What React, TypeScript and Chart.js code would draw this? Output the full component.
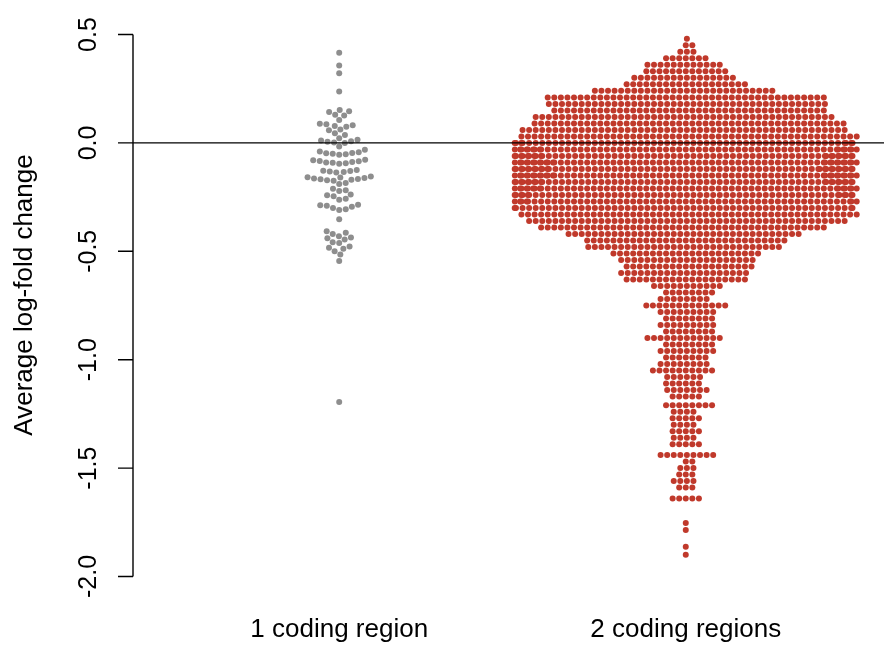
import React, { useEffect, useRef } from 'react';
import { Chart, registerables } from 'chart.js';

Chart.register(...registerables);

// ---------------- data ----------------
const categories = ['1 coding region', '2 coding regions'];
const categoryPositions = [1, 2];
const yTicks = [0.5, 0.0, -0.5, -1.0, -1.5, -2.0];
const yTickLabels = ['0.5', '0.0', '-0.5', '-1.0', '-1.5', '-2.0'];
const yTitle = 'Average log-fold change';
const referenceLine = 0;

// group 1: individual values
const oneRegionValues = [
  0.416, 0.357, 0.321, 0.237,
  0.152, 0.146, 0.142, 0.13, 0.126, 0.106,
  0.088, 0.086, 0.082, 0.078, 0.075,
  0.062, 0.058, 0.045, 0.037,
  0.022, 0.014, 0.011, 0.008, 0.005, 0.002, -0.001,
  -0.017, -0.032,
  -0.04, -0.043, -0.046, -0.048, -0.05, -0.052, -0.055,
  -0.078, -0.08, -0.083, -0.085, -0.088, -0.09, -0.092, -0.094, -0.096,
  -0.125, -0.128, -0.13, -0.132, -0.134, -0.136,
  -0.155, -0.158, -0.16, -0.162, -0.164, -0.166, -0.168, -0.17, -0.172, -0.174,
  -0.185, -0.19,
  -0.212, -0.218, -0.222,
  -0.238, -0.242, -0.246,
  -0.258, -0.262,
  -0.285, -0.288, -0.29, -0.295, -0.3, -0.306, -0.31,
  -0.352,
  -0.408, -0.415, -0.42,
  -0.43, -0.436, -0.44, -0.445,
  -0.458, -0.462,
  -0.478, -0.484, -0.488,
  -0.5, -0.515, -0.545,
  -1.195,
];

// group 2: value levels (rows of the swarm) and the number of points read at each level
const twoRegionLevels = [
  0.48, 0.45, 0.42, 0.39, 0.36, 0.33, 0.3, 0.27, 0.24, 0.21,
  0.18, 0.15, 0.12, 0.09, 0.06, 0.03, 0.0, -0.03, -0.06, -0.09,
  -0.12, -0.15, -0.18, -0.21, -0.24, -0.27, -0.3, -0.33, -0.36, -0.39,
  -0.42, -0.45, -0.48, -0.51, -0.54, -0.57, -0.6, -0.63, -0.66, -0.69,
  -0.72, -0.75, -0.78, -0.81, -0.84, -0.87, -0.9, -0.93, -0.96, -0.99,
  -1.02, -1.05, -1.08, -1.11, -1.14, -1.17, -1.21, -1.24, -1.27, -1.3,
  -1.33, -1.36, -1.39, -1.44, -1.47, -1.5, -1.53, -1.56, -1.59, -1.64,
  -1.753, -1.785, -1.863, -1.9,
];
const twoRegionCounts = [
  1, 2, 3, 7, 12, 13, 16, 19, 28, 43,
  43, 42, 46, 48, 50, 52, 56, 60, 62, 64,
  64, 64, 62, 60, 58, 56, 54, 52, 49, 44,
  36, 31, 30, 23, 21, 20, 20, 19, 11, 8,
  8, 13, 9, 8, 9, 8, 12, 8, 9, 7,
  8, 10, 6, 6, 7, 5, 8, 4, 5, 4,
  5, 4, 5, 9, 2, 3, 3, 4, 3, 5,
  1, 1, 1, 1,
];

const groupColors = ['#8e8e8e', '#c0392b'];

// ---------------- layout helpers ----------------
function swarmOffsets(ys: number[], d: number): number[] {
  const order = ys.map((_, i) => i).sort((a, b) => ys[b] - ys[a]);
  const placed: { x: number; y: number }[] = [];
  const out = new Array(ys.length).fill(0);
  const d2 = d * d - 1e-6;
  for (const i of order) {
    const y = ys[i];
    const near: { x: number; y: number }[] = [];
    for (let k = placed.length - 1; k >= 0; k--) {
      const p = placed[k];
      if (Math.abs(p.y - y) >= d) break;
      near.push(p);
    }
    const cands = [0];
    for (const p of near) {
      const dy = p.y - y;
      const dx = Math.sqrt(Math.max(0, d * d - dy * dy));
      cands.push(p.x + dx, p.x - dx);
    }
    cands.sort((a, b) => Math.abs(a) - Math.abs(b));
    let best = 0;
    for (const c of cands) {
      let ok = true;
      for (const p of near) {
        const dx = p.x - c;
        const dy = p.y - y;
        if (dx * dx + dy * dy < d2) {
          ok = false;
          break;
        }
      }
      if (ok) {
        best = c;
        break;
      }
    }
    placed.push({ x: best, y });
    out[i] = best;
  }
  return out;
}

function wrap(off: number, half: number): number {
  if (Math.abs(off) <= half) return off;
  const w = 2 * half;
  return ((((off + half) % w) + w) % w) - half;
}

const FONT = "'Liberation Sans', Arial, Helvetica, sans-serif";

export default function App() {
  const ref = useRef<HTMLCanvasElement>(null);

  useEffect(() => {
    const canvas = ref.current;
    if (!canvas) return;

    const overlay = {
      id: 'overlay',
      afterDatasetsDraw(chart: any) {
        const { ctx, chartArea, scales } = chart;
        const ys = scales.y;
        const xs = scales.x;
        ctx.save();
        ctx.strokeStyle = '#000';
        ctx.lineWidth = 1.4;
        const y0 = ys.getPixelForValue(referenceLine);
        ctx.beginPath();
        ctx.moveTo(chartArea.left, y0);
        ctx.lineTo(chartArea.right, y0);
        ctx.stroke();

        const ax = chartArea.left;
        const top = ys.getPixelForValue(yTicks[0]);
        const bot = ys.getPixelForValue(yTicks[yTicks.length - 1]);
        ctx.beginPath();
        ctx.moveTo(ax, top);
        ctx.lineTo(ax, bot);
        yTicks.forEach((t) => {
          const p = ys.getPixelForValue(t);
          ctx.moveTo(ax - 15, p);
          ctx.lineTo(ax, p);
        });
        ctx.stroke();

        ctx.fillStyle = '#000';
        ctx.font = `25px ${FONT}`;
        ctx.textAlign = 'center';
        ctx.textBaseline = 'middle';
        yTicks.forEach((t, i) => {
          const p = ys.getPixelForValue(t);
          ctx.save();
          ctx.translate(ax - 44, p);
          ctx.rotate(-Math.PI / 2);
          ctx.fillText(yTickLabels[i], 0, 0);
          ctx.restore();
        });
        ctx.font = `26px ${FONT}`;
        ctx.save();
        ctx.translate(25, 295);
        ctx.rotate(-Math.PI / 2);
        ctx.fillText(yTitle, 0, 0);
        ctx.restore();

        categories.forEach((c, i) => {
          ctx.fillText(c, xs.getPixelForValue(categoryPositions[i]), 630);
        });
        ctx.restore();
      },
    };

    const chart = new Chart(canvas, {
      type: 'scatter',
      data: {
        datasets: [
          { data: [], backgroundColor: groupColors[0], borderWidth: 0, pointRadius: 3, pointHoverRadius: 3 },
          { data: [], backgroundColor: groupColors[1], borderWidth: 0, pointRadius: 3, pointHoverRadius: 3 },
        ],
      },
      options: {
        responsive: false,
        animation: false,
        events: [],
        layout: { padding: { left: 133, right: 0, top: 20, bottom: 60 } },
        plugins: { legend: { display: false }, tooltip: { enabled: false } },
        scales: {
          x: { type: 'linear', min: 0.405, max: 2.572, display: false },
          y: { type: 'linear', min: -2.0392, max: 0.5669, display: false },
        },
      },
      plugins: [overlay],
    });

    const xs: any = chart.scales.x;
    const ysc: any = chart.scales.y;
    const pxPerUnit = xs.getPixelForValue(2) - xs.getPixelForValue(1);
    const D = 6.6;

    // group 1
    const g1y = oneRegionValues.map((v) => ysc.getPixelForValue(v));
    const g1off = swarmOffsets(g1y, D);
    const g1 = oneRegionValues.map((v, i) => ({ x: categoryPositions[0] + g1off[i] / pxPerUnit, y: v }));

    // group 2
    const g2vals: number[] = [];
    twoRegionLevels.forEach((lv, i) => {
      for (let k = 0; k < twoRegionCounts[i]; k++) g2vals.push(lv);
    });
    const g2y = g2vals.map((v) => ysc.getPixelForValue(v));
    const g2off = swarmOffsets(g2y, D);
    const half = 0.495 * pxPerUnit;
    const g2 = g2vals.map((v, i) => ({ x: categoryPositions[1] + wrap(g2off[i], half) / pxPerUnit, y: v }));

    chart.data.datasets[0].data = g1 as any;
    chart.data.datasets[1].data = g2 as any;
    chart.update();

    return () => chart.destroy();
  }, []);

  return (
    <div style={{ position: 'absolute', left: 0, top: 0, width: 887, height: 645, background: '#fff' }}>
      <canvas ref={ref} width={887} height={645} style={{ display: 'block' }} />
    </div>
  );
}
